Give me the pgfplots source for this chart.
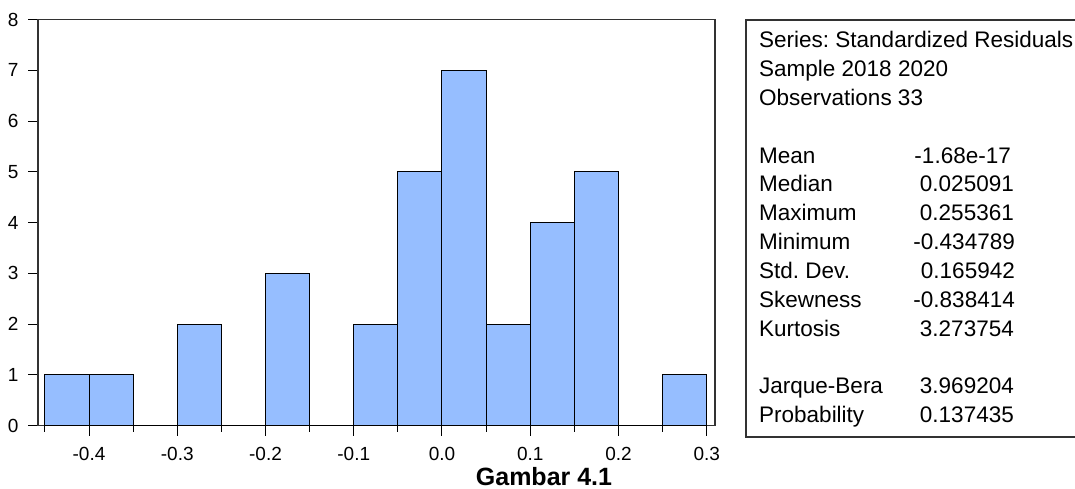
\documentclass[border=0pt]{standalone}
\usepackage{fontspec}
\setmainfont{Liberation Sans}
\usepackage{pgfplots}
\pgfplotsset{compat=1.18}
\definecolor{barblue}{RGB}{150,190,255}
\definecolor{axgray}{RGB}{50,50,50}
\frenchspacing
\begin{document}
\frenchspacing
\begin{tikzpicture}
\path[use as bounding box] (0pt,0pt) rectangle (1075pt,488pt);
\begin{axis}[
  at={(38pt,62.5pt)}, anchor=south west,
  scale only axis, width=677pt, height=406pt,
  xmin=-0.4578, xmax=0.3094, ymin=0, ymax=8,
  axis line style={draw=axgray, line width=1.2pt},
  xtick={-0.4,-0.3,-0.2,-0.1,0,0.1,0.2,0.3},
  xticklabels={-0.4,-0.3,-0.2,-0.1,0.0,0.1,0.2,0.3},
  minor xtick={-0.45,-0.35,-0.25,-0.15,-0.05,0.05,0.15,0.25},
  ytick={0,1,2,3,4,5,6,7,8},
  yticklabels={0,1,2,3,4,5,6,7,8},
  xtick pos=bottom, ytick pos=left,
  tick align=outside,
  major tick length=10pt, minor tick length=6pt,
  tick style={draw=black, line width=1pt},
  minor tick style={draw=black, line width=1pt},
  tick label style={font=\fontsize{19}{22}\selectfont, text=black},
  xticklabel shift=8pt,
  yticklabel shift=6pt,
]
\addplot[ybar interval, fill=barblue, draw=black, line width=1pt]
coordinates {(-0.45,1) (-0.40,1) (-0.35,0) (-0.30,2) (-0.25,0) (-0.20,3) (-0.15,0) (-0.10,2) (-0.05,5) (0.00,7) (0.05,2) (0.10,4) (0.15,5) (0.20,0) (0.25,1) (0.30,1)};
\end{axis}
% statistics box
\draw[axgray, line width=1.1pt] (746pt,51pt) rectangle (1085pt,468pt);
\begin{scope}[yshift=-6pt, every node/.style={inner sep=0pt, font=\fontsize{22.5}{26}\selectfont}]
\node[anchor=mid west] at (759pt,449pt) {Series:\ Standardized Residuals};
\node[anchor=mid west] at (759pt,420pt) {Sample 2018 2020};
\node[anchor=mid west] at (759pt,391pt) {Observations 33};
\node[anchor=mid west] at (759pt,333.5pt) {Mean};
\node[anchor=mid east] at (1011pt,333.5pt) {-1.68e-17};
\node[anchor=mid west] at (759pt,304.7pt) {Median};
\node[anchor=mid east] at (1014pt,304.7pt) {0.025091};
\node[anchor=mid west] at (759pt,275.8pt) {Maximum};
\node[anchor=mid east] at (1014pt,275.8pt) {0.255361};
\node[anchor=mid west] at (759pt,247pt) {Minimum};
\node[anchor=mid east] at (1015pt,247pt) {-0.434789};
\node[anchor=mid west] at (759pt,218.1pt) {Std.\ Dev.};
\node[anchor=mid east] at (1015pt,218.1pt) {0.165942};
\node[anchor=mid west] at (759pt,189.3pt) {Skewness};
\node[anchor=mid east] at (1015pt,189.3pt) {-0.838414};
\node[anchor=mid west] at (759pt,160.4pt) {Kurtosis};
\node[anchor=mid east] at (1014pt,160.4pt) {3.273754};
\node[anchor=mid west] at (759pt,102.7pt) {Jarque-Bera};
\node[anchor=mid east] at (1014pt,102.7pt) {3.969204};
\node[anchor=mid west] at (759pt,73.8pt) {Probability};
\node[anchor=mid east] at (1014pt,73.8pt) {0.137435};
\end{scope}
\node[inner sep=0pt, anchor=base, font=\bfseries\fontsize{25}{28}\selectfont] at (544pt,3pt) {Gambar 4.1};
\end{tikzpicture}
\end{document}
